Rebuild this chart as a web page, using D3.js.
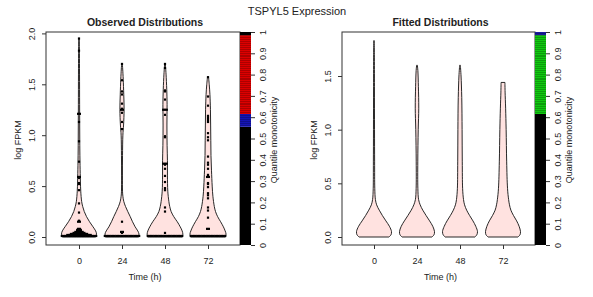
<!DOCTYPE html>
<html>
<head>
<meta charset="utf-8">
<script src="https://cdn.jsdelivr.net/npm/d3@7"></script>
<style>
  body { margin: 0; background: #fff; }
  text { font-family: "Liberation Sans", Arial, sans-serif; fill: #222; }
</style>
</head>
<body>
<svg width="593" height="297"></svg>
<script>
const svg = d3.select("svg");

// time points (h)
const tempos = [0, 24, 48, 72];
const yTicksObs = [0, 0.5, 1.0, 1.5, 2.0];
const yTicksFit = [0, 0.5, 1.0, 1.5];
const barTicks = [0, 0.1, 0.2, 0.3, 0.4, 0.5, 0.6, 0.7, 0.8, 0.9, 1];

// violin outlines: [log FPKM, relative half width]
const perfisObs = [
  [[0,0.95],[0.03,1.0],[0.06,0.95],[0.1,0.8],[0.15,0.6],[0.2,0.43],[0.25,0.3],[0.3,0.21],[0.35,0.15],[0.45,0.1],[0.55,0.08],[0.7,0.06],[0.9,0.045],[1.1,0.04],[1.3,0.035],[1.6,0.03],[1.8,0.025],[1.95,0.015]],
  [[0,0.95],[0.03,0.97],[0.06,0.9],[0.1,0.75],[0.15,0.6],[0.2,0.47],[0.25,0.33],[0.3,0.2],[0.35,0.1],[0.4,0.05],[0.45,0.03],[0.6,0.025],[0.8,0.03],[1.0,0.05],[1.1,0.09],[1.25,0.12],[1.4,0.1],[1.55,0.07],[1.65,0.04],[1.7,0.02]],
  [[0,1.0],[0.03,1.02],[0.06,0.98],[0.1,0.87],[0.15,0.7],[0.2,0.5],[0.25,0.35],[0.3,0.27],[0.35,0.22],[0.45,0.16],[0.6,0.14],[0.75,0.14],[0.9,0.12],[1.1,0.11],[1.3,0.12],[1.45,0.1],[1.6,0.06],[1.7,0.02]],
  [[0,1.0],[0.03,1.03],[0.06,0.98],[0.1,0.88],[0.15,0.72],[0.2,0.55],[0.25,0.43],[0.3,0.36],[0.4,0.28],[0.5,0.24],[0.65,0.2],[0.8,0.17],[0.95,0.16],[1.1,0.15],[1.25,0.14],[1.4,0.11],[1.5,0.07],[1.57,0.03]]
];
const perfisFit = [
  [[0,0.85],[0.02,0.97],[0.05,1.0],[0.1,0.88],[0.15,0.68],[0.2,0.48],[0.25,0.3],[0.3,0.15],[0.35,0.08],[0.45,0.045],[0.7,0.035],[1.0,0.03],[1.4,0.025],[1.7,0.02],[1.83,0.01]],
  [[0,0.85],[0.02,0.97],[0.05,1.0],[0.1,0.9],[0.15,0.72],[0.2,0.52],[0.25,0.33],[0.3,0.18],[0.35,0.09],[0.45,0.05],[0.7,0.045],[1.0,0.07],[1.2,0.1],[1.4,0.08],[1.55,0.05],[1.6,0.02]],
  [[0,0.85],[0.02,0.96],[0.05,1.0],[0.1,0.9],[0.15,0.74],[0.2,0.55],[0.25,0.38],[0.3,0.26],[0.35,0.2],[0.45,0.15],[0.7,0.13],[1.0,0.12],[1.3,0.1],[1.5,0.06],[1.6,0.02]],
  [[0,0.85],[0.02,0.97],[0.05,1.0],[0.1,0.92],[0.15,0.78],[0.2,0.6],[0.25,0.45],[0.3,0.37],[0.35,0.32],[0.45,0.26],[0.7,0.21],[1.0,0.18],[1.2,0.15],[1.35,0.12],[1.44,0.11]]
];

// observed points (log FPKM) per time point
const zeros = n => Array(n).fill(0.01);
const pontos0 = [1.95,1.83,1.21,1.21,1.13,0.94,0.74,0.59,0.59,0.58,0.53,0.52,0.46,0.33,0.24,0.16,0.15,0.15,0.08,0.08,
  0.07,0.07,0.07,0.06,0.06,0.06,0.05,0.05,0.05,0.05,0.05,0.04,0.04,0.04,0.04,0.04,0.04,0.04,
  0.03,0.03,0.03,0.03,0.03,0.03,0.03,0.03,0.03,0.03,0.02,0.02,0.02,0.02,0.02,0.02,0.02,0.02,0.02,0.02,0.02,0.02,0.02,0.02]
  .concat(zeros(22));
const pontos24 = [1.70,1.54,1.43,1.40,1.31,1.26,1.25,1.25,1.22,1.13,1.06,0.15,0.05,0.05,0.04].concat(zeros(22));
const pontos48 = [1.70,1.66,1.44,1.43,1.35,1.25,1.25,1.25,1.20,0.99,0.98,0.72,0.72,0.72,0.71,0.67,0.60,0.54,0.48,0.46,0.29,0.25,0.04].concat(zeros(22));
const pontos72 = [1.57,1.38,1.29,1.19,1.17,1.15,1.13,1.02,0.98,0.95,0.79,0.73,0.71,0.67,0.61,0.59,0.59,0.53,0.52,0.49,0.43,0.41,0.38,0.29,0.26,0.19,0.08,0.08].concat(zeros(22));
const pontosObs = [pontos0, pontos24, pontos48, pontos72];

// quantile monotonicity bars: band limits and colours
const limitesObs = [0, 0.555, 0.615, 0.985, 1];
const coresObs = ["#000000", "#1414b4", "#dc0000", "#000000"];
const limitesFit = [0, 0.615, 0.985, 1];
const coresFit = ["#000000", "#10c810", "#1c1ca0"];

const topo = 32, base = 245;

svg.append("text").attr("x", 297).attr("y", 15).attr("text-anchor", "middle")
  .style("font-size", "11px").text("TSPYL5 Expression");

function painel(cfg) {
  const g = svg.append("g");
  const x = d3.scaleLinear().domain([0, 72]).range(cfg.xr);
  const y = d3.scaleLinear().domain(cfg.yd).range([237, cfg.yTop]);
  const w = d3.scaleLinear().domain([0, 1]).range([0, 17.5]);

  // violins
  tempos.forEach((t, i) => {
    const cx = x(t);
    const area = d3.area()
      .curve(d3.curveCatmullRom)
      .y(d => y(d[0]))
      .x0(d => cx - w(d[1]))
      .x1(d => cx + w(d[1]));
    g.append("path")
      .attr("d", area(cfg.perfis[i]))
      .attr("fill", "#ffe2e0")
      .attr("stroke", "#111")
      .attr("stroke-width", 0.9);

    if (cfg.pontos) {
      const grupos = d3.groups(cfg.pontos[i], v => Math.round(v * 100) / 100);
      grupos.forEach(([v, arr]) => {
        const n = arr.length;
        const passo = v <= 0.01 ? Math.min(1.8, 36 / n) : 1.8;
        arr.forEach((_, k) => {
          g.append("rect")
            .attr("x", cx + (k - (n - 1) / 2) * passo - 1.1)
            .attr("y", y(v) - 1.1)
            .attr("width", 2.2).attr("height", 2.2)
            .attr("fill", "#000");
        });
      });
    }
  });

  // box
  g.append("rect")
    .attr("x", cfg.box[0]).attr("y", topo)
    .attr("width", cfg.box[1] - cfg.box[0]).attr("height", base - topo)
    .attr("fill", "none").attr("stroke", "#333").attr("stroke-width", 1);

  // y axis
  g.append("g").attr("transform", `translate(${cfg.box[0]},0)`)
    .call(d3.axisLeft(y).tickValues(cfg.yTicks).tickFormat(d3.format(".1f")).tickSize(4).tickPadding(0))
    .call(a => a.select(".domain").remove())
    .call(a => a.selectAll("line").attr("stroke", "#333"))
    .call(a => a.selectAll("text")
      .attr("transform", "translate(-14,0) rotate(-90)")
      .attr("x", 0).attr("y", 0).attr("dy", "0.35em").attr("text-anchor", "middle")
      .style("font-size", "9px").style("font-family", "Liberation Sans, Arial, sans-serif").attr("fill", "#222"));
  // x axis
  g.append("g").attr("transform", `translate(0,${base})`)
    .call(d3.axisBottom(x).tickValues(tempos).tickFormat(d3.format("d")).tickSize(4).tickPadding(9))
    .call(a => a.select(".domain").remove())
    .call(a => a.selectAll("line").attr("stroke", "#333"))
    .call(a => a.selectAll("text").style("font-size", "9px")
      .style("font-family", "Liberation Sans, Arial, sans-serif").attr("fill", "#222"));

  // titles
  const meio = (cfg.box[0] + cfg.box[1]) / 2 + 2;
  g.append("text").attr("x", meio).attr("y", 26).attr("text-anchor", "middle")
    .style("font-size", "10.5px").style("font-weight", "bold").text(cfg.titulo);
  g.append("text").attr("x", meio).attr("y", 280).attr("text-anchor", "middle")
    .style("font-size", "9px").text("Time (h)");
  g.append("text").attr("transform", `translate(${cfg.box[0] - 25},140) rotate(-90)`)
    .attr("text-anchor", "middle").style("font-size", "9px").text("log FPKM");

  // monotonicity colour bar
  const c = d3.scaleLinear().domain([0, 1]).range([base, topo]);
  const bx = cfg.box[1], bw = 11;
  const faixas = d3.pairs(cfg.limites).map((p, i) => ({ a: p[0], b: p[1], cor: cfg.cores[i] }));
  g.selectAll(null).data(faixas).join("rect")
    .attr("x", bx).attr("y", d => c(d.b))
    .attr("width", bw).attr("height", d => c(d.a) - c(d.b))
    .attr("fill", d => d.cor);
  // stripes inside the coloured bands
  faixas.filter(d => d.cor !== "#000000").forEach(d => {
    const linhas = d3.range(d.a + 0.009, d.b, 0.009);
    g.selectAll(null).data(linhas).join("line")
      .attr("x1", bx).attr("x2", bx + bw)
      .attr("y1", v => Math.round(c(v)) + 0.5).attr("y2", v => Math.round(c(v)) + 0.5)
      .attr("stroke", d3.color(d.cor).darker(1.4)).attr("stroke-width", 0.7)
      .attr("stroke-opacity", 0.8);
  });
  g.append("g").attr("transform", `translate(${bx + bw},0)`)
    .call(d3.axisRight(c).tickValues(barTicks).tickFormat(d => d === 0 || d === 1 ? d : d3.format(".1f")(d)).tickSize(4).tickPadding(0))
    .call(a => a.select(".domain").remove())
    .call(a => a.selectAll("line").attr("stroke", "#333"))
    .call(a => a.selectAll("text")
      .attr("transform", "translate(12,0) rotate(-90)")
      .attr("x", 0).attr("y", 0).attr("dy", "0.35em").attr("text-anchor", "middle")
      .style("font-size", "9px").style("font-family", "Liberation Sans, Arial, sans-serif").attr("fill", "#222"));
  g.append("text").attr("transform", `translate(${bx + bw + 26},140) rotate(-90)`)
    .attr("text-anchor", "middle").style("font-size", "9px").text("Quantile monotonicity");
}

painel({ xr: [79, 208], yd: [0, 2], yTop: 33.4, yTicks: yTicksObs, box: [46, 240],
  perfis: perfisObs, pontos: pontosObs, titulo: "Observed Distributions", limites: limitesObs, cores: coresObs });
painel({ xr: [374, 503], yd: [0, 1.5], yTop: 76, yTicks: yTicksFit, box: [342, 535],
  perfis: perfisFit, pontos: null, titulo: "Fitted Distributions", limites: limitesFit, cores: coresFit });
</script>
</body>
</html>
